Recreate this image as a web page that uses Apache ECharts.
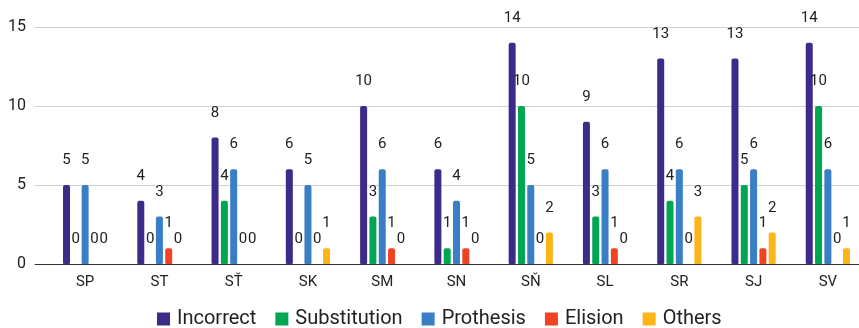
<!DOCTYPE html>
<html>
<head>
<meta charset="utf-8">
<script src="https://cdn.jsdelivr.net/npm/echarts@6/dist/echarts.min.js"></script>
<style>html,body{margin:0;padding:0;background:#fff}#c{width:859px;height:328px}</style>
</head>
<body>
<div id="c"></div>
<script>
var categories = ['SP', 'ST', 'SŤ', 'SK', 'SM', 'SN', 'SŇ', 'SL', 'SR', 'SJ', 'SV'];
var incorrect    = [5, 4, 8, 6, 10, 6, 14, 9, 13, 13, 14];
var substitution = [0, 0, 4, 0, 3, 1, 10, 3, 4, 5, 10];
var prothesis    = [5, 3, 6, 5, 6, 4, 5, 6, 6, 6, 6];
var elision      = [0, 1, 0, 0, 1, 1, 0, 1, 0, 1, 0];
var others       = [0, 0, 0, 1, 0, 0, 2, 0, 3, 2, 1];
var yTicks = [0, 5, 10, 15];

var seriesDefs = [
  {name: 'Incorrect', data: incorrect, color: '#3e2b89'},
  {name: 'Substitution', data: substitution, color: '#00a651'},
  {name: 'Prothesis', data: prothesis, color: '#3a7ec6'},
  {name: 'Elision', data: elision, color: '#f04324'},
  {name: 'Others', data: others, color: '#fcb416'}
];

var font = 'Roboto, "Liberation Sans", sans-serif';
var chart = echarts.init(document.getElementById('c'), null, {renderer: 'canvas'});
chart.setOption({
  animation: false,
  textStyle: {fontFamily: font},
  grid: [
    {left: 35, right: 0, top: 27, bottom: 64, containLabel: false, outerBoundsMode: 'none'},
    {left: 48, width: 817, top: 27, bottom: 64, containLabel: false, outerBoundsMode: 'none'}
  ],
  legend: {
    top: 309,
    left: 157,
    padding: 0,
    itemWidth: 13,
    itemHeight: 13,
    itemGap: 19,
    icon: 'rect',
    textStyle: {fontSize: 20, color: '#222', fontFamily: font, padding: [0, 0, 0, 2]},
    data: seriesDefs.map(function (s) { return s.name; })
  },
  xAxis: [
    {gridIndex: 0, type: 'value', min: 0, max: 1, axisLine: {show: true, onZero: false, lineStyle: {color: '#333', width: 1}},
     axisTick: {show: false}, axisLabel: {show: false}, splitLine: {show: false}},
    {gridIndex: 1, type: 'category', data: categories, axisLine: {show: false}, axisTick: {show: false},
     axisLabel: {fontSize: 15, color: '#222', margin: 11, fontFamily: font}}
  ],
  yAxis: [
    {gridIndex: 0, type: 'value', min: yTicks[0], max: yTicks[yTicks.length - 1], interval: 5,
     axisLine: {show: false}, axisTick: {show: false},
     axisLabel: {fontSize: 16, color: '#222', margin: 9, fontFamily: font},
     splitLine: {show: true, lineStyle: {color: '#d0d0d0', width: 1}}},
    {gridIndex: 1, type: 'value', min: yTicks[0], max: yTicks[yTicks.length - 1], interval: 5, show: false,
     splitLine: {show: false}}
  ],
  series: seriesDefs.map(function (s) {
    return {
      name: s.name,
      type: 'bar',
      xAxisIndex: 1,
      yAxisIndex: 1,
      data: s.data,
      barWidth: 7,
      barGap: '33%',
      itemStyle: {color: s.color, borderRadius: [2, 2, 1, 1]},
      label: {show: true, position: 'top', distance: 17, fontSize: 15, color: '#222', fontFamily: font}
    };
  })
});
</script>
</body>
</html>
